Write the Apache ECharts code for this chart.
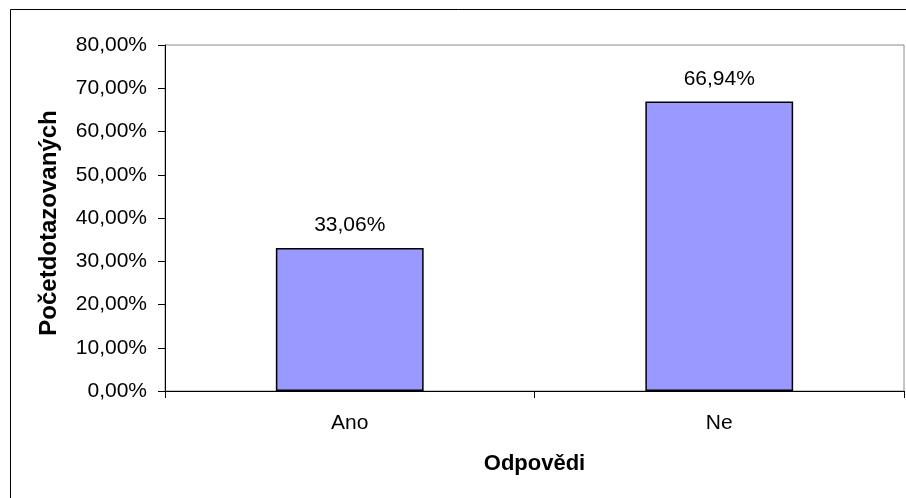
<!DOCTYPE html>
<html>
<head>
<meta charset="utf-8">
<script src="https://cdn.jsdelivr.net/npm/echarts@6/dist/echarts.min.js"></script>
<style>
  html, body { margin: 0; padding: 0; background: #fff; }
  #chart { width: 906px; height: 498px; }
</style>
</head>
<body>
<div id="chart"></div>
<script>
// Survey answers (share of respondents, %)
const categories = ['Ano', 'Ne'];
const shares = [33.06, 66.94];
const yTicks = { min: 0, max: 80, step: 10 };
const xTitle = 'Odpovědi';
const yTitle = 'Početdotazovaných';

const fmt = v => v.toFixed(2).replace('.', ',') + '%';
const FONT = '"Liberation Sans", Arial, sans-serif';

const chart = echarts.init(document.getElementById('chart'), null, { renderer: 'canvas' });
chart.setOption({
  animation: false,
  backgroundColor: '#fff',
  textStyle: { fontFamily: FONT, color: '#000' },
  graphic: [{
    type: 'rect',
    shape: { x: 10.5, y: 9.5, width: 1000, height: 1000 },
    style: { fill: 'none', stroke: '#000', lineWidth: 1 },
    silent: true
  }],
  grid: {
    left: 165, right: 2, top: 45, bottom: 107,
    show: true, borderColor: '#8c8c8c', borderWidth: 1, backgroundColor: '#fff'
  },
  xAxis: {
    type: 'category',
    data: categories,
    name: xTitle,
    nameLocation: 'middle',
    nameGap: 62,
    nameTextStyle: { fontFamily: FONT, fontSize: 22, fontWeight: 'bold', color: '#000' },
    axisLine: { lineStyle: { color: '#000', width: 1 } },
    axisTick: { show: true, length: 7, lineStyle: { color: '#000' } },
    axisLabel: { fontFamily: FONT, fontSize: 21, color: '#000', margin: 22 },
    splitLine: { show: false }
  },
  yAxis: {
    type: 'value',
    min: yTicks.min, max: yTicks.max, interval: yTicks.step,
    name: yTitle,
    nameLocation: 'middle',
    nameRotate: 90,
    nameGap: 104,
    nameTextStyle: {
      fontFamily: FONT, fontSize: 24, fontWeight: 'bold', color: '#000',
      padding: [0, 10, 0, 0]
    },
    axisLine: { show: true, lineStyle: { color: '#000', width: 1 } },
    axisTick: { show: true, length: 7, lineStyle: { color: '#000' } },
    axisLabel: { fontFamily: FONT, fontSize: 21, color: '#000', margin: 18, formatter: fmt },
    splitLine: { show: false }
  },
  series: [{
    type: 'bar',
    data: shares,
    barCategoryGap: '60%',
    itemStyle: { color: '#9999ff', borderColor: '#000', borderWidth: 1.5 },
    label: {
      show: true, position: 'top', distance: 12,
      fontFamily: FONT, fontSize: 21, color: '#000',
      formatter: p => fmt(p.value)
    }
  }]
});
</script>
</body>
</html>
